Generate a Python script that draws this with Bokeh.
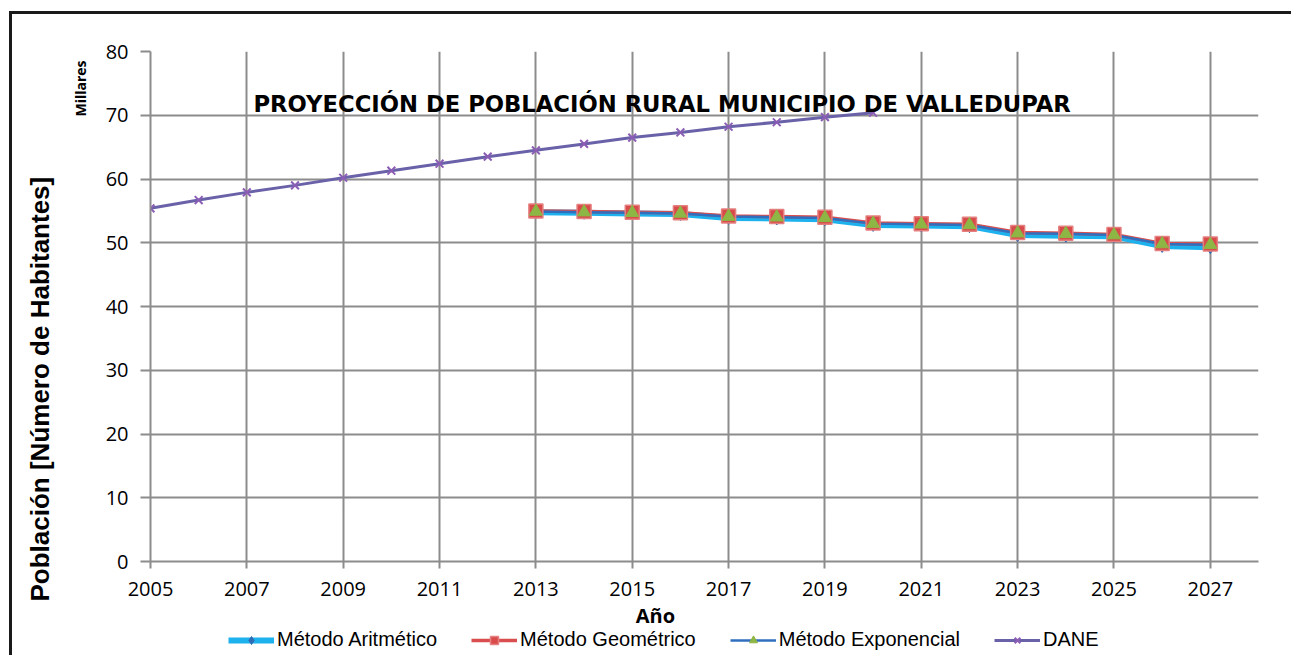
from bokeh.plotting import figure
from bokeh.layouts import column
from bokeh.models import Label, Legend, LegendItem, FixedTicker, Range1d, Title
from bokeh.embed import file_html
from bokeh.resources import INLINE

# ---------------- data (thousands of inhabitants) ----------------
years_dane = list(range(2005, 2021))
dane = [55.4, 56.7, 57.9, 59.0, 60.2, 61.3, 62.4, 63.5, 64.5, 65.5,
        66.5, 67.3, 68.2, 68.9, 69.7, 70.4]

years_proj = list(range(2013, 2028))
aritmetico = [54.8, 54.7, 54.6, 54.5, 53.9, 53.8, 53.7, 52.8, 52.7, 52.6,
              51.2, 51.1, 51.0, 49.5, 49.3]
geometrico = [55.0, 54.9, 54.8, 54.7, 54.2, 54.1, 54.0, 53.1, 53.0, 52.9,
              51.6, 51.5, 51.3, 49.9, 49.8]
exponencial = [54.9, 54.8, 54.7, 54.6, 54.1, 54.0, 53.9, 53.0, 52.9, 52.8,
               51.5, 51.4, 51.2, 49.8, 49.7]

x_ticks = list(range(2005, 2028, 2))
y_ticks = list(range(0, 81, 10))

titulo = "PROYECCIÓN DE POBLACIÓN RURAL MUNICIPIO DE VALLEDUPAR"
eje_y = "Población [Número de Habitantes]"
eje_x = "Año"
unidades = "Millares"
nombres = ["Método Aritmético", "Método Geométrico", "Método Exponencial", "DANE"]

GRID = "#8c8c8c"
BORDER = "3px solid #1a1a1a"

# series styles (shared by the chart and the legend strip)
st_a_line = dict(line_color="#1DB1EE", line_width=6)
st_g_line = dict(line_color="#D94F4F", line_width=3.5)
st_e_line = dict(line_color="#2F6FBE", line_width=2.5)
st_d_line = dict(line_color="#6A62A9", line_width=3)
st_a_mark = dict(marker="diamond", size=13, fill_color="#2E6DB5", line_color="#2E6DB5")
st_g_mark = dict(marker="square", size=14, fill_color="#D94A4A", line_color="#E58080",
                 line_width=1.5)
st_e_mark = dict(marker="triangle", size=13, fill_color="#8DB645", line_color="#8DB645")
st_d_mark = dict(marker="x", size=11, line_color="#8C5DB5", line_width=2)

# the 3px CSS border is handed to the frame by the layout, hence 1105 x 507
p = figure(frame_width=1105, frame_height=507, output_backend="svg",
           toolbar_location=None,
           x_range=Range1d(2005, 2028), y_range=Range1d(0, 80),
           min_border_left=138, min_border_right=36, min_border_top=37,
           min_border_bottom=42)
p.margin = (11, 0, 0, 9)
p.styles = {"border-left": BORDER, "border-top": BORDER}
p.outline_line_color = None
p.background_fill_color = "white"
p.border_fill_color = "white"

p.xaxis.ticker = FixedTicker(ticks=x_ticks)
p.yaxis.ticker = FixedTicker(ticks=y_ticks)
for ax in (p.xaxis[0], p.yaxis[0]):
    ax.axis_line_color = GRID
    ax.axis_line_width = 2
    ax.major_tick_line_color = GRID
    ax.major_tick_line_width = 2
    ax.major_tick_in = 0
    ax.minor_tick_line_color = None
    ax.major_label_text_font = "Open Sans"
    ax.major_label_text_font_size = "20px"
    ax.major_label_text_color = "#000000"
p.xaxis.major_tick_out = 7
p.xaxis.major_label_standoff = 13
p.yaxis.major_tick_out = 10
p.yaxis.major_label_standoff = 12

p.grid.grid_line_color = GRID
p.grid.grid_line_width = 2
p.grid.grid_line_alpha = 1.0

# side titles: "Millares" next to the tick labels, y title further out
p.add_layout(Title(text=unidades, align="right", offset=9, vertical_align="bottom",
                   standoff=26, text_font="Open Sans", text_font_style="bold",
                   text_font_size="14px", text_color="#000000"), "left")
p.add_layout(Title(text=eje_y, align="left", offset=-40, vertical_align="bottom",
                   standoff=2, text_font="Liberation Sans", text_font_style="bold",
                   text_font_size="26px", text_color="#000000"), "left")

# DANE series
p.line(years_dane, dane, **st_d_line)
p.scatter(years_dane, dane, **st_d_mark)

# projection lines, then their markers
p.line(years_proj, aritmetico, **st_a_line)
p.line(years_proj, geometrico, **st_g_line)
p.line(years_proj, exponencial, **st_e_line)
p.scatter(years_proj, aritmetico, **st_a_mark)
p.scatter(years_proj, geometrico, **st_g_mark)
p.scatter(years_proj, exponencial, **st_e_mark)

# chart title inside the plotting area
p.add_layout(Label(x=2015.62, y=71.7, text=titulo, text_align="center",
                   text_baseline="middle", text_font="DejaVu Sans",
                   text_font_style="bold", text_font_size="22.7px",
                   text_color="#000000"))

# ---------------- strip under the chart: axis title and legend ----------------
# (y range placed far above the data so the legend proxies stay out of sight)
lg = figure(frame_width=1105, frame_height=55, output_backend="svg",
            toolbar_location=None, x_axis_location=None, y_axis_location=None,
            x_range=Range1d(2005, 2028), y_range=Range1d(100, 155),
            min_border_left=138, min_border_right=36, min_border_top=0,
            min_border_bottom=0)
lg.margin = (0, 0, 0, 9)
lg.styles = {"border-left": BORDER}
lg.outline_line_color = None
lg.grid.visible = False
lg.background_fill_color = "white"
lg.border_fill_color = "white"

lg.add_layout(Label(x=2015.48, y=140, text=eje_x, text_align="center",
                    text_baseline="middle", text_font="Open Sans",
                    text_font_style="bold", text_font_size="20px",
                    text_color="#000000"))

items = []
for name, xs, ys, ls, ms in ((nombres[0], years_proj, aritmetico, st_a_line, st_a_mark),
                             (nombres[1], years_proj, geometrico, st_g_line, st_g_mark),
                             (nombres[2], years_proj, exponencial, st_e_line, st_e_mark),
                             (nombres[3], years_dane, dane, st_d_line, st_d_mark)):
    rl = lg.line(xs, ys, **ls)
    rm = lg.scatter(xs, ys, **ms)
    items.append(LegendItem(label=name, renderers=[rl, rm]))

legend = Legend(items=items, orientation="horizontal", location=(78, 4),
                glyph_width=46, glyph_height=20, label_standoff=3, spacing=34,
                padding=0, margin=0, border_line_color=None,
                background_fill_alpha=0, label_text_font="Liberation Sans",
                label_text_font_size="20px", label_text_color="#000000")
lg.add_layout(legend, "center")

layout = column(p, lg, spacing=0)
open("out.html", "w").write(file_html(layout, INLINE))
